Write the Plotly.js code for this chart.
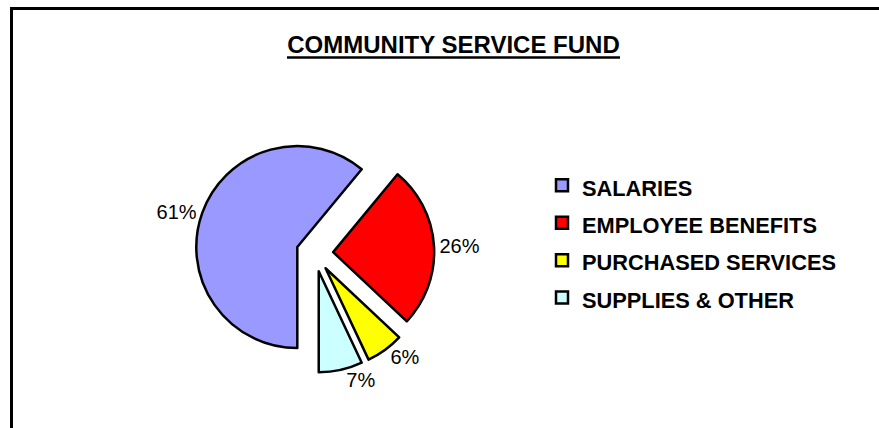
<!DOCTYPE html>
<html>
<head>
<meta charset="utf-8">
<script src="https://cdn.plot.ly/plotly-3.0.1.min.js"></script>
<style>
  html, body { margin: 0; padding: 0; background: #ffffff; }
  #chart { width: 879px; height: 428px; }
</style>
</head>
<body>
<div id="chart"></div>
<script>
// ---- data ----
const categories = ['SALARIES', 'EMPLOYEE BENEFITS', 'PURCHASED SERVICES', 'SUPPLIES & OTHER'];
const shares = [61, 26, 6, 7];
const sliceColors = ['#9999FF', '#FF0000', '#FFFF00', '#CCFFFF'];
const chartTitle = 'COMMUNITY SERVICE FUND';

const W = 879, H = 428;
const FONT = 'Liberation Sans, Arial, Helvetica, sans-serif';

// legend text wrapped in smaller span so legend rows get the wider spacing
const legendLabels = categories.map(c => '<span style="font-size:21.8px">' + c + '</span>');

const trace = {
  type: 'pie',
  labels: legendLabels,
  values: shares,
  sort: false,
  direction: 'clockwise',
  rotation: 180,
  pull: [0.183, 0.183, 0.183, 0.183],
  marker: { colors: sliceColors, line: { color: '#000000', width: 2.5 } },
  texttemplate: '%{value}%',
  textposition: 'outside',
  textfont: { family: FONT, size: 20, color: '#000000' },
  domain: { x: [195.2 / W, 434.2 / W], y: [1 - 372.8 / H, 1 - 133.8 / H] },
  hoverinfo: 'label+percent'
};

const layout = {
  width: W,
  height: H,
  margin: { l: 0, r: 0, t: 0, b: 0 },
  paper_bgcolor: '#ffffff',
  plot_bgcolor: '#ffffff',
  font: { family: FONT, color: '#000000' },
  title: {
    text: '<b>' + chartTitle + '</b>',
    font: { family: FONT, size: 24, color: '#000000' },
    x: 453.5 / W, xanchor: 'center',
    y: 1 - 45 / H, yanchor: 'middle',
    xref: 'paper', yref: 'paper'
  },
  showlegend: true,
  legend: {
    x: 542 / W, xanchor: 'left',
    y: 1 - 161.5 / H, yanchor: 'top',
    font: { family: FONT, size: 26.5, color: '#000000', weight: 'bold' },
    bgcolor: 'rgba(0,0,0,0)',
    borderwidth: 0
  },
  shapes: [
    // chart frame (top and left edges)
    { type: 'line', xref: 'paper', yref: 'paper', x0: 11.5 / W, x1: 11.5 / W, y0: -0.05, y1: 1 - 8.5 / H, line: { color: '#000000', width: 3 } },
    { type: 'line', xref: 'paper', yref: 'paper', x0: 10 / W, x1: 1.05, y0: 1 - 8.5 / H, y1: 1 - 8.5 / H, line: { color: '#000000', width: 3 } },
    // title underline
    { type: 'line', xref: 'paper', yref: 'paper', x0: 287 / W, x1: 620 / W, y0: 1 - 57.5 / H, y1: 1 - 57.5 / H, line: { color: '#000000', width: 2.5 } }
  ]
};

Plotly.newPlot('chart', [trace], layout, { displayModeBar: false, staticPlot: true });
</script>
</body>
</html>
